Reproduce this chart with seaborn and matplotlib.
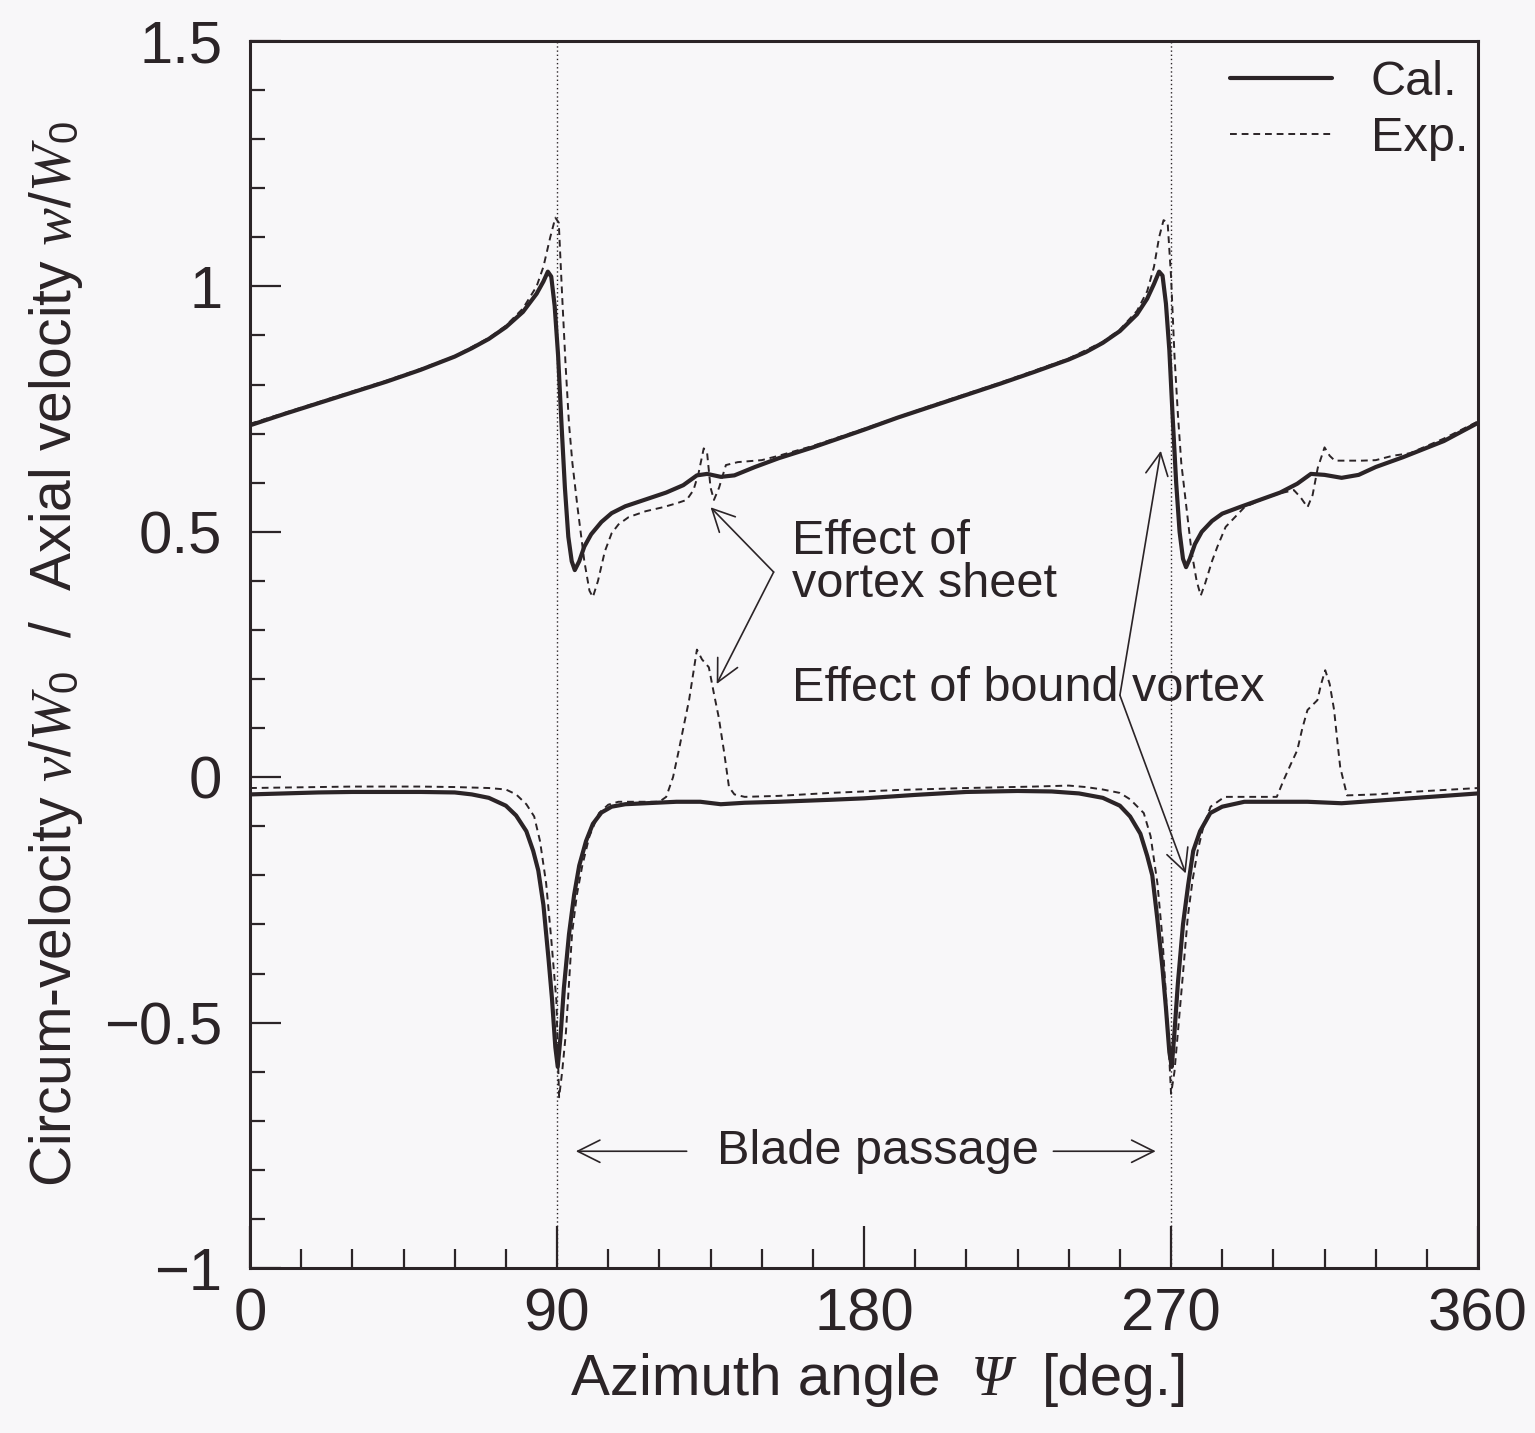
import numpy as np
import pandas as pd
import matplotlib
matplotlib.use("Agg")
import matplotlib.pyplot as plt
from matplotlib.ticker import MultipleLocator, FuncFormatter
from matplotlib.offsetbox import TextArea, HPacker, AnchoredOffsetbox
import seaborn as sns

# ---- data: azimuth angle [deg] and normalised velocities ----
cal_axial_x = [0, 10, 20, 30, 40, 50, 60, 65, 70, 75, 80, 84, 86, 87.3, 88.3, 89.3,
               90.3, 91.3, 92.3, 93.3, 94.3, 95.2, 96.5, 98, 100, 103, 106, 110, 116,
               122, 127, 131, 134, 138, 142, 148, 155, 165, 180, 190, 200, 210, 220,
               230, 240, 245, 250, 255, 260, 263, 265, 266.5, 267.5, 268.5, 269.5,
               270.5, 271.5, 272.5, 273.5, 274.4, 275.5, 277, 279, 282, 285, 290, 296,
               302, 307, 311, 315, 320, 325, 330, 338, 350, 360]
cal_axial_y = [0.717, 0.740, 0.762, 0.784, 0.806, 0.830, 0.857, 0.874, 0.893, 0.917,
               0.948, 0.985, 1.010, 1.030, 1.020, 0.960, 0.860, 0.720, 0.590, 0.490,
               0.440, 0.422, 0.440, 0.470, 0.495, 0.520, 0.538, 0.552, 0.566, 0.580,
               0.595, 0.615, 0.618, 0.612, 0.615, 0.632, 0.650, 0.672, 0.708, 0.733,
               0.756, 0.779, 0.802, 0.826, 0.851, 0.866, 0.885, 0.909, 0.943, 0.975,
               1.005, 1.030, 1.022, 0.965, 0.870, 0.730, 0.600, 0.500, 0.445, 0.428,
               0.445, 0.475, 0.500, 0.522, 0.537, 0.550, 0.565, 0.580, 0.598, 0.618,
               0.616, 0.610, 0.616, 0.632, 0.652, 0.685, 0.722]

exp_axial_x = [0, 10, 20, 30, 40, 50, 60, 70, 75, 80, 84, 86, 88, 89.5, 90.5, 91.5,
               92.5, 93.5, 94.5, 96, 98, 99.5, 100.5, 102, 104, 106, 108, 111, 116,
               121, 125, 128, 130, 131.5, 133, 134, 135, 136, 137.5, 139.5, 143, 150,
               155, 165, 180, 200, 220, 240, 250, 255, 260, 263, 265, 266.5, 267.8,
               269, 270, 271, 272, 273, 274.5, 276, 277.5, 278.7, 280, 282, 283.6, 286,
               291.5, 298, 303, 306, 308, 310, 311.5, 313, 315, 316.5, 318, 321, 326,
               330, 335, 340, 350, 360]
exp_axial_y = [0.720, 0.742, 0.764, 0.786, 0.808, 0.832, 0.858, 0.895, 0.920, 0.955,
               1.000, 1.040, 1.100, 1.140, 1.130, 0.980, 0.840, 0.720, 0.640, 0.550,
               0.440, 0.380, 0.367, 0.400, 0.460, 0.497, 0.515, 0.530, 0.542, 0.550,
               0.558, 0.565, 0.585, 0.620, 0.670, 0.660, 0.590, 0.565, 0.590, 0.636,
               0.642, 0.646, 0.655, 0.675, 0.710, 0.758, 0.804, 0.853, 0.887, 0.912,
               0.950, 0.990, 1.040, 1.100, 1.135, 1.130, 1.020, 0.860, 0.740, 0.640,
               0.550, 0.460, 0.400, 0.370, 0.395, 0.440, 0.470, 0.510, 0.550, 0.570,
               0.580, 0.585, 0.570, 0.550, 0.575, 0.630, 0.672, 0.655, 0.645, 0.645,
               0.645, 0.646, 0.655, 0.660, 0.690, 0.725]

cal_circ_x = [0, 10, 20, 30, 40, 50, 60, 65, 70, 75, 78, 81, 83, 84.5, 86, 87.5, 88.5,
              89.5, 90.2, 91, 92, 93.5, 95, 96.5, 98.5, 100.5, 103, 106, 110, 116, 125,
              132, 138, 145, 155, 170, 180, 195, 210, 225, 235, 243, 250, 255, 258,
              261, 263, 264.5, 266, 267.5, 268.5, 269.5, 270.2, 271, 272, 273.5, 275,
              276.5, 278.5, 281.5, 285, 291.5, 300, 310, 320, 330, 340, 350, 360]
cal_circ_y = [-0.035, -0.033, -0.031, -0.030, -0.030, -0.030, -0.031, -0.035, -0.042,
              -0.058, -0.078, -0.110, -0.150, -0.190, -0.260, -0.370, -0.450, -0.550,
              -0.590, -0.530, -0.430, -0.320, -0.240, -0.180, -0.130, -0.095, -0.072,
              -0.060, -0.055, -0.053, -0.050, -0.050, -0.055, -0.052, -0.050, -0.046,
              -0.043, -0.036, -0.030, -0.028, -0.029, -0.033, -0.042, -0.058, -0.080,
              -0.115, -0.160, -0.200, -0.290, -0.390, -0.470, -0.560, -0.590, -0.520,
              -0.420, -0.300, -0.220, -0.150, -0.110, -0.073, -0.060, -0.050, -0.050,
              -0.050, -0.053, -0.048, -0.043, -0.038, -0.033]

exp_circ_x = [0, 10, 20, 30, 40, 50, 60, 65, 70, 75, 78, 81, 83.3, 85, 86.8, 88.3, 89.8,
              90.3, 90.6, 91.5, 92.6, 93.5, 94.4, 95.8, 97.4, 99.5, 102.3, 105, 108, 115,
              120, 122, 124, 125.7, 127.3, 128.7, 130, 131, 132.5, 134.5, 136, 137.4,
              139, 140.4, 142, 145, 155, 170, 190, 210, 230, 240, 245, 250, 255, 258,
              262, 264, 266, 267.5, 268.6, 269.4, 270, 271, 272, 273.5, 274.9, 276.3,
              277.8, 279.5, 281.6, 285.7, 295, 301, 303, 305, 307, 308.5, 310, 312.9,
              314, 315.2, 316.5, 317.8, 318.8, 319.6, 321.6, 330, 340, 350, 360]
exp_circ_y = [-0.022, -0.021, -0.020, -0.019, -0.019, -0.019, -0.020, -0.021, -0.022,
              -0.025, -0.035, -0.055, -0.080, -0.130, -0.216, -0.330, -0.455, -0.580,
              -0.652, -0.600, -0.520, -0.420, -0.318, -0.240, -0.180, -0.120, -0.073,
              -0.056, -0.050, -0.050, -0.050, -0.040, 0.000, 0.055, 0.110, 0.157, 0.215,
              0.260, 0.240, 0.224, 0.170, 0.122, 0.050, -0.020, -0.035, -0.040, -0.038,
              -0.032, -0.026, -0.022, -0.019, -0.017, -0.020, -0.025, -0.032, -0.045,
              -0.073, -0.120, -0.216, -0.330, -0.455, -0.560, -0.645, -0.600, -0.520,
              -0.400, -0.285, -0.210, -0.150, -0.100, -0.060, -0.040, -0.040, -0.040,
              -0.006, 0.025, 0.055, 0.100, 0.137, 0.157, 0.190, 0.218, 0.190, 0.137,
              0.070, 0.020, -0.037, -0.035, -0.030, -0.026, -0.022]

blade_angles = [90, 270]

# ---- styling ----
INK = "#2b2427"
BG = "#f8f7f9"
sns.set_theme(style="white")
plt.rcParams["font.family"] = ["Liberation Sans", "DejaVu Sans"]
plt.rcParams["mathtext.fontset"] = "custom"
plt.rcParams["mathtext.it"] = "Liberation Serif:italic"
plt.rcParams["mathtext.rm"] = "Liberation Sans"
plt.rcParams["text.color"] = INK
plt.rcParams["axes.labelcolor"] = INK
plt.rcParams["xtick.color"] = INK
plt.rcParams["ytick.color"] = INK

fig = plt.figure(figsize=(15.35, 14.33), dpi=100, facecolor=BG)
ax = fig.add_axes([0.1629, 0.1151, 0.8, 0.8563], facecolor=BG)

cal_style = dict(color=INK, linewidth=3.0, linestyle="-")
exp_style = dict(color=INK, linewidth=1.4, linestyle=(0, (3.5, 2.5)))

sns.lineplot(x=cal_axial_x, y=cal_axial_y, ax=ax, label="Cal.", sort=False, **cal_style)
sns.lineplot(x=exp_axial_x, y=exp_axial_y, ax=ax, label="Exp.", sort=False, **exp_style)
sns.lineplot(x=cal_circ_x, y=cal_circ_y, ax=ax, legend=False, sort=False, **cal_style)
sns.lineplot(x=exp_circ_x, y=exp_circ_y, ax=ax, legend=False, sort=False, **exp_style)

for a in blade_angles:
    ax.axvline(a, color=INK, linewidth=1.0, linestyle=(0, (1, 2)), zorder=1)

ax.set_xlim(0, 360)
ax.set_ylim(-1, 1.5)

for s in ax.spines.values():
    s.set_color(INK)
    s.set_linewidth(2.2)

ax.xaxis.set_major_locator(MultipleLocator(90))
ax.xaxis.set_minor_locator(MultipleLocator(15))
ax.yaxis.set_major_locator(MultipleLocator(0.5))
ax.yaxis.set_minor_locator(MultipleLocator(0.1))


def fmt_y(v, _):
    if abs(v - round(v)) < 1e-9:
        s = f"{int(round(v))}"
    else:
        s = f"{v:g}"
    return s.replace("-", "\u2212")


ax.yaxis.set_major_formatter(FuncFormatter(fmt_y))
ax.tick_params(axis="x", which="major", direction="in", length=30, width=1.6,
               labelsize=43, pad=14, bottom=True, top=False)
ax.tick_params(axis="x", which="minor", direction="in", length=14, width=1.6,
               bottom=True, top=False)
ax.tick_params(axis="y", which="major", direction="in", length=22, width=1.6,
               labelsize=43, pad=20, left=True, right=False)
ax.tick_params(axis="y", which="minor", direction="in", length=11, width=1.6,
               left=True, right=False)

# x label with an italic serif Psi, assembled from three text pieces
xlabel_parts = HPacker(
    children=[
        TextArea("Azimuth angle", textprops=dict(fontsize=42, color=INK)),
        TextArea("Ψ", textprops=dict(fontsize=42, color=INK, style="italic",
                                      family="Liberation Serif")),
        TextArea("[deg.]", textprops=dict(fontsize=42, color=INK)),
    ],
    align="baseline", pad=0, sep=22,
)
ax.add_artist(AnchoredOffsetbox(loc="center", child=xlabel_parts, pad=0,
                                frameon=False, bbox_to_anchor=(0.573, 0.037),
                                bbox_transform=fig.transFigure, borderpad=0))
ax.set_xlabel("")
ax.set_ylabel(r"Circum-velocity $v/W_0$  /  Axial velocity $w/W_0$",
              fontsize=41, labelpad=14)

leg = ax.legend(loc="upper right", bbox_to_anchor=(1.008, 1.0), frameon=False,
                fontsize=35, handlelength=2.1, handletextpad=0.8,
                labelspacing=0.22, borderaxespad=0.0)
for t in leg.get_texts():
    t.set_color(INK)

# ---- annotations ----
arrow = dict(arrowstyle="->", color=INK, linewidth=1.2, mutation_scale=40,
             shrinkA=0, shrinkB=0)
ax.text(159, 0.437, "Effect of\nvortex sheet", fontsize=35, va="center",
        ha="left", linespacing=0.95)
ax.annotate("", xy=(135, 0.55), xytext=(153.5, 0.418), arrowprops=arrow)
ax.annotate("", xy=(136.8, 0.19), xytext=(153.5, 0.418), arrowprops=arrow)

ax.text(159, 0.181, "Effect of bound vortex", fontsize=35, va="center", ha="left")
ax.annotate("", xy=(267, 0.665), xytext=(255, 0.167), arrowprops=arrow)
ax.annotate("", xy=(274.3, -0.196), xytext=(255, 0.167), arrowprops=arrow)

ax.text(184, -0.762, "Blade passage", fontsize=35, va="center", ha="center")
ax.annotate("", xy=(95.5, -0.762), xytext=(128, -0.762), arrowprops=arrow)
ax.annotate("", xy=(265.5, -0.762), xytext=(235.5, -0.762), arrowprops=arrow)

fig.savefig("out.png", dpi=100, facecolor=BG)
